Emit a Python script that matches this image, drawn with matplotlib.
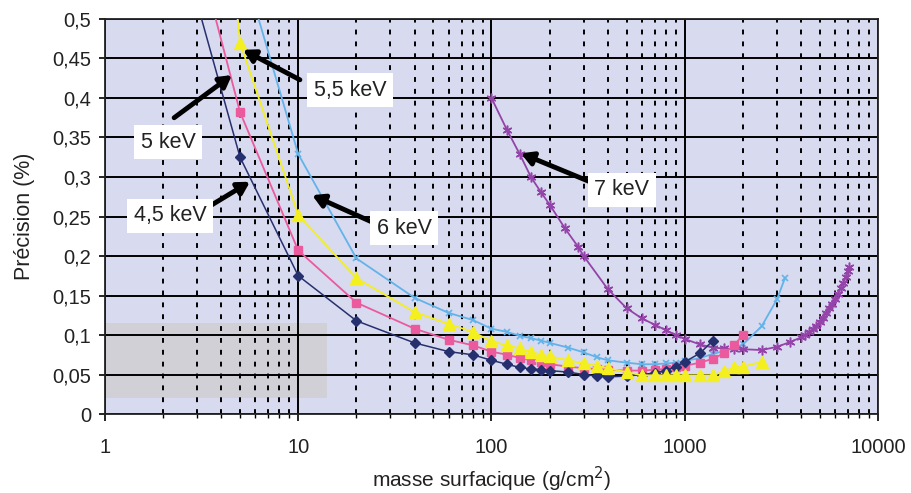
import numpy as np
import matplotlib
matplotlib.use("Agg")
import matplotlib.pyplot as plt
from matplotlib.patches import Rectangle
from matplotlib.ticker import FixedLocator, FuncFormatter, LogLocator, NullFormatter

plt.rcParams['font.family'] = ['Liberation Sans', 'DejaVu Sans']

# ---- data ----
x_45 = [3, 5, 10, 20, 40, 60, 80, 100, 120, 140, 160, 180, 200, 250, 300, 350, 400,
        500, 600, 700, 800, 900, 1000, 1200, 1400]
y_45 = [0.52, 0.325, 0.175, 0.118, 0.09, 0.079, 0.075, 0.068, 0.063, 0.059, 0.057, 0.056,
        0.055, 0.053, 0.05, 0.048, 0.047, 0.048, 0.05, 0.052, 0.055, 0.06, 0.066, 0.077, 0.093]

x_5 = [3, 5, 10, 20, 40, 60, 80, 100, 120, 140, 160, 180, 200, 250, 300, 350, 400,
       500, 600, 700, 800, 900, 1000, 1200, 1400, 1600, 1800, 2000]
y_5 = [0.59, 0.382, 0.207, 0.141, 0.108, 0.094, 0.087, 0.079, 0.075, 0.071, 0.068, 0.066,
       0.063, 0.06, 0.058, 0.057, 0.056, 0.055, 0.055, 0.056, 0.057, 0.059, 0.061, 0.065,
       0.07, 0.077, 0.087, 0.1]

x_55 = [4.5, 5, 10, 20, 40, 60, 80, 100, 120, 140, 160, 180, 200, 250, 300, 350, 400,
        500, 600, 700, 800, 900, 1000, 1200, 1400, 1600, 1800, 2000, 2500]
y_55 = [0.58, 0.47, 0.252, 0.172, 0.129, 0.114, 0.104, 0.092, 0.087, 0.083, 0.079, 0.075,
        0.073, 0.068, 0.064, 0.061, 0.058, 0.053, 0.049, 0.049, 0.049, 0.049, 0.049, 0.049,
        0.049, 0.054, 0.059, 0.06, 0.066]

x_6 = [5, 10, 20, 40, 60, 80, 100, 120, 140, 160, 180, 200, 250, 300, 350, 400, 500, 600,
       700, 800, 900, 1000, 1200, 1400, 1600, 1800, 2000, 2500, 3000, 3300]
y_6 = [0.58, 0.329, 0.197, 0.147, 0.128, 0.119, 0.108, 0.104, 0.099, 0.096, 0.093, 0.09,
       0.084, 0.078, 0.072, 0.068, 0.065, 0.063, 0.063, 0.064, 0.065, 0.067, 0.071, 0.076,
       0.08, 0.084, 0.088, 0.111, 0.145, 0.172]

x_7 = [100, 120, 140, 160, 180, 200, 240, 280, 300, 400, 500, 600, 700, 800, 900, 1000,
       1200, 1400, 1600, 1800, 2000, 2500, 3000, 3500, 4000, 4200, 4400, 4600, 4800, 5000,
       5200, 5400, 5600, 5800, 6000, 6200, 6400, 6600, 6800, 7000, 7100]
y_7 = [0.4, 0.36, 0.329, 0.3, 0.281, 0.265, 0.235, 0.212, 0.2, 0.158, 0.134, 0.121, 0.113,
       0.106, 0.1, 0.095, 0.088, 0.084, 0.083, 0.082, 0.082, 0.081, 0.085, 0.091, 0.097,
       0.1, 0.104, 0.107, 0.111, 0.116, 0.122, 0.128, 0.134, 0.139, 0.145, 0.152, 0.159,
       0.166, 0.173, 0.181, 0.186]

y_ticks = [0, 0.05, 0.1, 0.15, 0.2, 0.25, 0.3, 0.35, 0.4, 0.45, 0.5]

# ---- figure ----
fig = plt.figure(figsize=(9.12, 4.93), dpi=100, facecolor='white')
ax = fig.add_axes([0.1151, 0.1602, 0.8476, 0.8013])
ax.set_facecolor('#d8daef')
ax.set_xscale('log')
ax.set_xlim(1, 10000)
ax.set_ylim(0, 0.5)

# grey scan patch in the lower left, under the grid
ax.add_patch(Rectangle((1, 0.02), 13.1, 0.095, facecolor='#d0d0d6', edgecolor='none', zorder=0.1))

# grid
ax.yaxis.set_major_locator(FixedLocator(y_ticks))
ax.xaxis.set_major_locator(LogLocator(base=10))
ax.xaxis.set_minor_locator(LogLocator(base=10, subs=np.arange(2, 10)))
ax.xaxis.set_minor_formatter(NullFormatter())
ax.set_axisbelow(True)
ax.grid(True, which='major', axis='both', color='black', lw=1.4)
ax.grid(True, which='minor', axis='x', color='black', lw=1.4, ls=(0, (2.5, 3.6)))

ax.xaxis.set_major_formatter(FuncFormatter(lambda v, p: f"{v:g}"))
ax.yaxis.set_major_formatter(FuncFormatter(lambda v, p: f"{v:g}".replace('.', ',')))
ax.tick_params(axis='both', which='major', labelsize=14.5, colors='black', labelcolor='#222222')
ax.tick_params(axis='x', which='major', length=5, width=1.2, pad=12)
ax.tick_params(axis='x', which='minor', length=3, width=1.0)
ax.tick_params(axis='y', which='major', length=4, width=1.2, pad=6)
for s in ax.spines.values():
    s.set_color('#222222')
    s.set_linewidth(1.3)

# series
ax.plot(x_45, y_45, color='#27306e', lw=1.1, marker='D', ms=5, mec='#27306e', zorder=5)
ax.plot(x_5, y_5, color='#ec5a9e', lw=1.3, marker='s', ms=6, mec='#ec5a9e', zorder=4)
ax.plot(x_55, y_55, color='#f4ef1f', lw=1.3, marker='^', ms=8, mec='#f4ef1f', zorder=6)
ax.plot(x_6, y_6, color='#62b3ea', lw=1.3, marker='x', ms=5, mew=1.2, zorder=3)
ax.plot(x_7, y_7, color='#9443a8', lw=1.3, marker=(6, 2, 0), ms=7, mew=1.1, zorder=3)

ax.set_xlabel('masse surfacique (g/cm$^{2}$)', fontsize=15, color='#222222', labelpad=6)
ax.set_ylabel('Précision (%)', fontsize=15.5, color='#222222', labelpad=12)

# labels with arrows
labels = ['5,5 keV', '5 keV', '4,5 keV', '6 keV', '7 keV']
label_pos = [(18.5, 0.41), (2.12, 0.344), (2.17, 0.251), (35.3, 0.235), (473, 0.284)]
arrow_tail = [(10.2, 0.423), (2.28, 0.375), (3.37, 0.261), (24.1, 0.243), (323, 0.294)]
arrow_head = [(5.18, 0.461), (4.54, 0.429), (5.63, 0.294), (11.8, 0.277), (142, 0.33)]

for lab, pos, tail, head in zip(labels, label_pos, arrow_tail, arrow_head):
    ax.annotate('', xy=head, xytext=tail,
                arrowprops=dict(arrowstyle='-|>,head_length=0.7,head_width=0.4',
                                lw=3.5, color='black', shrinkA=0, shrinkB=0),
                zorder=8)
    ax.text(pos[0], pos[1], lab, fontsize=15.5, color='#222222', ha='center', va='center',
            bbox=dict(boxstyle='square,pad=0.3', fc='white', ec='none'), zorder=9)

fig.savefig('out.png', dpi=100)
